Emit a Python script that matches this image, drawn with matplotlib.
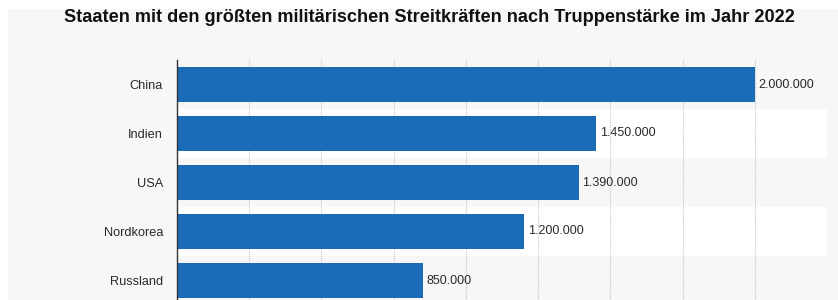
import matplotlib
matplotlib.use("Agg")
import matplotlib.pyplot as plt
from matplotlib import font_manager
from matplotlib.patches import Rectangle

title = "Staaten mit den größten militärischen Streitkräften nach Truppenstärke im Jahr 2022"
countries = ["China", "Indien", "USA", "Nordkorea", "Russland"]
troops = [2000000, 1450000, 1390000, 1200000, 850000]
value_labels = ["2.000.000", "1.450.000", "1.390.000", "1.200.000", "850.000"]

W, H, DPI = 838, 300, 100
fig = plt.figure(figsize=(W / DPI, H / DPI), dpi=DPI, facecolor="white")
# light grey panel background (white strip at top and left)
fig.patches.append(Rectangle((8 / W, 0), 1 - 8 / W, 1 - 9 / H, transform=fig.transFigure,
                             facecolor="#f7f7f7", edgecolor="none", zorder=-10))

names = {f.name for f in font_manager.fontManager.ttflist}
tfam = "Liberation Sans Narrow" if "Liberation Sans Narrow" in names else "Liberation Sans"
lfam = "Liberation Sans" if "Liberation Sans" in names else "DejaVu Sans"

# axes: left 177px, right 827px, top 60px, rows 49px each
left, right, top = 177, 827, 60
row_h = 49
bottom = top + row_h * len(countries)
ax = fig.add_axes([left / W, 1 - bottom / H, (right - left) / W, (bottom - top) / H])
ax.set_facecolor("#f7f7f7")
n = len(countries)
ys = list(range(n))
ax.set_ylim(n - 0.5, -0.5)
ax.set_xlim(0, 2250000)
for i in ys:
    if i % 2 == 1:
        ax.axhspan(i - 0.5, i + 0.5, color="white", zorder=0, lw=0)
for xv in range(250000, 2250001, 250000):
    ax.axvline(xv, color="#c4c4c4", lw=0.8, ls=(0, (1, 1)), zorder=1)
ax.barh(ys, troops, height=0.70, color="#1a6cb6", edgecolor="none", zorder=2)
for y, v, lab in zip(ys, troops, value_labels):
    ax.text(v + 2250000 * 4 / 650, y, lab, va="center", ha="left", fontsize=9,
            color="#2a2a2a", family=lfam, zorder=3)
ax.set_yticks(ys)
ax.set_yticklabels(countries, fontsize=9.2, color="#2a2a2a", family=lfam)
ax.tick_params(axis="y", length=0, pad=10)
ax.tick_params(axis="x", length=0, labelbottom=False)
for s in ["top", "right", "bottom"]:
    ax.spines[s].set_visible(False)
ax.spines["left"].set_color("#333333")
ax.spines["left"].set_linewidth(1.0)
ax.spines["left"].set_zorder(4)

t = fig.text(429 / W, 1 - 17 / H, title, ha="center", va="center", fontsize=14,
             fontweight="bold", family=tfam, color="#111111")
fig.canvas.draw()
bb = t.get_window_extent()
t.set_fontsize(14 * 728 / bb.width)

fig.savefig("out.png", dpi=DPI, facecolor="white")
